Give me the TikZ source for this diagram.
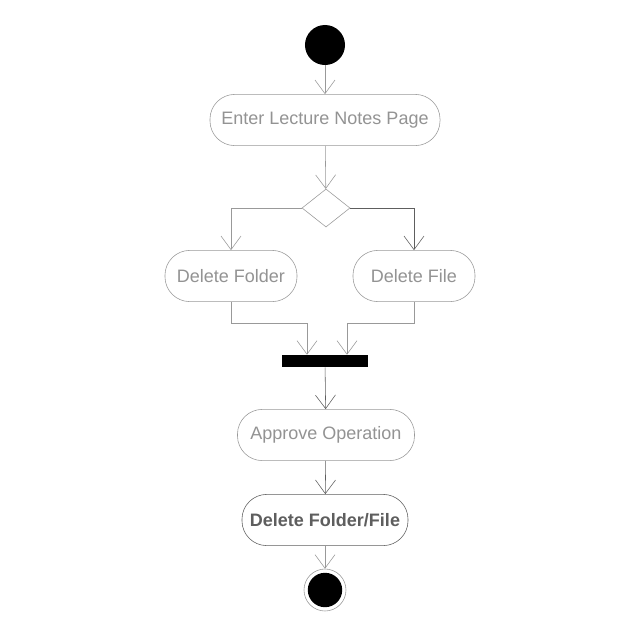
\documentclass[tikz,border=0pt]{standalone}
\usepackage{fontspec}
\setmainfont{Liberation Sans}
\usepackage{xcolor}
\usetikzlibrary{shapes.geometric,arrows.meta}
\definecolor{linegray}{HTML}{999999}
\definecolor{textgray}{HTML}{939393}
\definecolor{darkgray}{HTML}{5E5E5E}

\begin{document}
\begin{tikzpicture}[x=0.025cm, y=-0.025cm, >={Straight Barb[length=3.4mm,width=5mm]},
		activity/.style={draw=linegray, thin, rectangle, rounded corners=0.62cm, inner sep=0pt,
			minimum height=1.28cm, text=textgray, font=\fontsize{12.8}{15}\selectfont},
		flow/.style={->, draw=linegray, thin}]
				% canvas
				\useasboundingbox (0,0) rectangle (640,640);
				\fill[white] (0,0) rectangle (640,640);
				% start and end
				\node[circle, fill=black, minimum size=1cm, inner sep=0pt] (start) at (325,45) {};
				\node[circle, draw=linegray, minimum size=1.05cm, inner sep=0pt] (stop) at (325,590) {};
				\node[circle, fill=black, minimum size=0.86cm, inner sep=0pt] at (stop) {};
				% activities
				\node[activity, minimum width=5.75cm] (enter) at (325,120) {Enter Lecture Notes Page};
				\node[diamond, draw=linegray, thin, minimum width=1.2cm, minimum height=0.95cm, inner sep=0pt] (choice) at (326,208) {};
				\node[activity, minimum width=3.3cm] (folder) at (231,276) {Delete Folder};
				\node[activity, minimum width=3.05cm] (file) at (414,276) {Delete File};
				\node[fill=black, minimum width=2.125cm, minimum height=0.3cm, inner sep=0pt] (join) at (325,361) {};
				\node[activity, minimum width=4.425cm] (approve) at (326,435) {Approve Operation};
				\node[activity, minimum width=4.15cm, text=darkgray, draw=darkgray, font=\fontsize{12.8}{15}\selectfont\bfseries] (remove) at (325,520) {Delete Folder/File};
				% flows
				\draw[flow] (start) -- (enter);
				\draw[flow] (enter) -- (choice);
				\draw[flow] (choice.west) -| (folder.north);
				\draw[flow, draw=darkgray] (choice.east) -| (file.north);
				\draw[flow] (folder.south) -- ++(0,21) -| ([xshift=-0.45cm]join.north);
				\draw[flow] (file.south) -- ++(0,21) -| ([xshift=0.55cm]join.north);
				\draw[flow, draw=darkgray] (join) -- (approve);
				\draw[flow, draw=darkgray] (approve) -- (remove);
				\draw[flow] (remove) -- (stop);
			\end{tikzpicture}
\end{document}
